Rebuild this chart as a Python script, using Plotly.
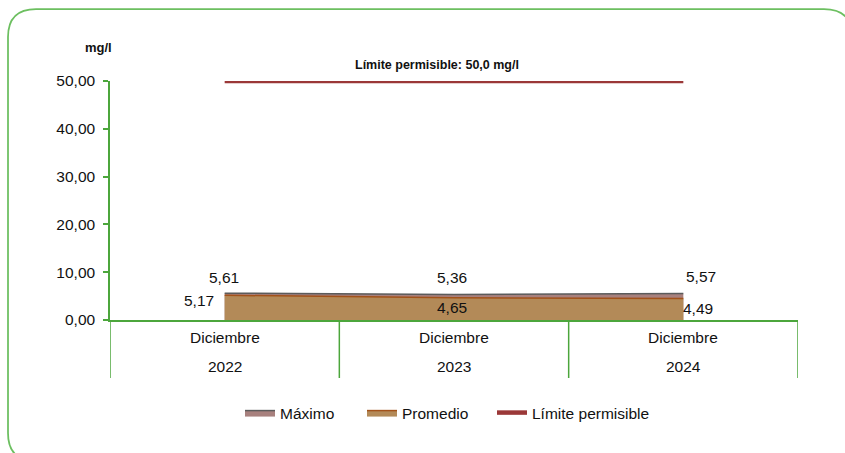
import plotly.graph_objects as go

# ---- data ----
categories_month = ["Diciembre", "Diciembre", "Diciembre"]
categories_year = ["2022", "2023", "2024"]
maximo = [5.61, 5.36, 5.57]
promedio = [5.17, 4.65, 4.49]
limite = [50.0, 50.0, 50.0]
y_ticks = [0, 10, 20, 30, 40, 50]
series_names = ["Máximo", "Promedio", "Límite permisible"]
limit_title = "Límite permisible: 50,0 mg/l"
y_unit = "mg/l"

# ---- styling / layout helpers ----
W, H = 845, 453
L, R, T, B = 110, 798, 81, 320


def px(xp):
    return (xp - L) / (R - L)


def py(yp):
    return (B - yp) / (B - T)


FONT = "Liberation Sans Narrow, Arial Narrow, Liberation Sans, Arial, sans-serif"
GREEN = "#4CA63C"
TXT = "#111111"
FS = 15.5

x = list(range(len(categories_year)))

fig = go.Figure()
fig.add_trace(go.Scatter(x=x, y=maximo, name=series_names[0], mode="lines",
                         fill="tozeroy", fillcolor="#A8817E", legend="legend",
                         line=dict(color="#5B5B5B", width=1.5)))
fig.add_trace(go.Scatter(x=x, y=promedio, name=series_names[1], mode="lines",
                         fill="tozeroy", fillcolor="#B38A58", legend="legend2",
                         line=dict(color="#A2521A", width=1.5)))
fig.add_trace(go.Scatter(x=x, y=limite, name=series_names[2], mode="lines", legend="legend3",
                         line=dict(color="#9B3838", width=4.5)))

annotations = []
max_shift = [(-1, -16), (-2, -17), (18, -17)]
prom_shift = [(-26, 5), (-2, 10), (15, 10)]
for i, v in enumerate(maximo):
    annotations.append(dict(x=x[i], y=v, xref="x", yref="y", text=f"{v:.2f}".replace(".", ","),
                            showarrow=False, xshift=max_shift[i][0], yshift=-max_shift[i][1],
                            yanchor="middle", font=dict(size=FS, color=TXT, family=FONT)))
for i, v in enumerate(promedio):
    annotations.append(dict(x=x[i], y=v, xref="x", yref="y", text=f"{v:.2f}".replace(".", ","),
                            showarrow=False, xshift=prom_shift[i][0], yshift=-prom_shift[i][1],
                            yanchor="middle", font=dict(size=FS, color=TXT, family=FONT)))
for i in x:
    annotations.append(dict(x=i, y=py(337), xref="x", yref="paper", text=categories_month[i],
                            showarrow=False, yanchor="middle",
                            font=dict(size=FS, color=TXT, family=FONT)))
    annotations.append(dict(x=i, y=py(366), xref="x", yref="paper", text=categories_year[i],
                            showarrow=False, yanchor="middle",
                            font=dict(size=FS, color=TXT, family=FONT)))
annotations.append(dict(x=px(437), y=py(65), xref="paper", yref="paper", text=f"<b>{limit_title}</b>",
                        showarrow=False, yanchor="middle",
                        font=dict(size=12.5, color=TXT, family=FONT)))
annotations.append(dict(x=px(83), y=py(48), xref="paper", yref="paper", text=f"<b>{y_unit}</b>",
                        showarrow=False, yanchor="middle",
                        font=dict(size=13, color=TXT, family=FONT)))

shapes = []
for b in [-0.5, 0.5, 1.5, 2.5]:
    shapes.append(dict(type="line", xref="x", yref="paper", x0=b, x1=b, y0=0, y1=py(378),
                       line=dict(color=GREEN, width=1.5)))

# rounded border
bl, bt, br, bb, rad = 8, 9, 852, 461, 28
rx = rad / (R - L)
ry = rad / (B - T)
X0, X1, Y0, Y1 = px(bl), px(br), py(bb), py(bt)
path = (f"M {X0+rx},{Y1} L {X1-rx},{Y1} Q {X1},{Y1} {X1},{Y1-ry} "
        f"L {X1},{Y0+ry} Q {X1},{Y0} {X1-rx},{Y0} L {X0+rx},{Y0} "
        f"Q {X0},{Y0} {X0},{Y0+ry} L {X0},{Y1-ry} Q {X0},{Y1} {X0+rx},{Y1} Z")
shapes.append(dict(type="path", xref="paper", yref="paper", path=path,
                   line=dict(color="#6CBF60", width=1.75), layer="below"))


def leg(xpix):
    return dict(orientation="h", x=px(xpix), xanchor="left", y=py(413), yanchor="middle",
                font=dict(size=FS, color=TXT, family=FONT), bgcolor="rgba(0,0,0,0)")


fig.update_layout(
    width=W, height=H, autosize=False,
    margin=dict(l=L, r=W - R, t=T, b=H - B),
    paper_bgcolor="white", plot_bgcolor="white",
    separators=",.",
    font=dict(family=FONT, size=FS, color=TXT),
    showlegend=True,
    legend=leg(240), legend2=leg(362), legend3=leg(492),
    annotations=annotations,
    shapes=shapes,
    xaxis=dict(range=[-0.5, 2.5], showticklabels=False, showgrid=False, zeroline=False,
               showline=True, linecolor=GREEN, linewidth=1.5, ticks=""),
    yaxis=dict(range=[0, 50], tickvals=y_ticks, tickformat=".2f", showgrid=False, zeroline=False,
               showline=True, linecolor=GREEN, linewidth=1.5, ticks="outside", ticklen=5,
               tickcolor=GREEN, tickwidth=1.5, ticklabelstandoff=5,
               tickfont=dict(size=FS, color=TXT, family=FONT)),
)

fig.write_html("out.html", config={"displayModeBar": False},
               post_script="document.body.style.margin='0';document.body.style.overflow='hidden';")
